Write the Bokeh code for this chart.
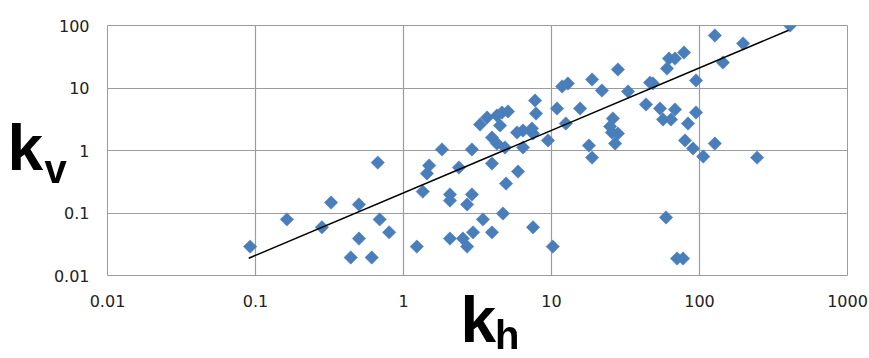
import numpy as np
from bokeh.plotting import figure
from bokeh.layouts import column
from bokeh.models import FixedTicker, CustomJSTickFormatter, ColumnDataSource, Div
from bokeh.embed import file_html
from bokeh.resources import INLINE

# ---- data ----
kh = [0.092, 0.163, 0.281, 0.324, 0.50, 0.50, 0.44, 0.61, 0.67, 0.69, 0.80,
      1.23, 1.35, 1.44, 1.49, 1.82, 2.06, 2.06, 2.90, 2.69, 4.93, 5.94, 3.44,
      4.70, 2.95, 3.96, 2.06, 2.52, 2.69, 7.50, 10.2, 2.37, 2.90, 3.96, 3.29,
      3.67, 4.28, 4.63, 5.08, 4.49, 3.96, 4.28, 4.85, 5.85, 6.42, 7.38, 7.50,
      6.42, 7.74, 7.86, 9.47, 10.9, 11.8, 12.9, 12.5, 15.6, 18.8, 21.9, 28.1,
      32.9, 46.3, 48.5, 43.5, 54.1, 68.3, 62.2, 68.3, 60.3, 78.6, 94.7, 127,
      197, 144, 409, 56.7, 64.2, 26.0, 24.9, 25.6, 28.1, 83.6, 94.7, 26.9,
      17.9, 18.8, 79.8, 90.4, 106, 127, 245, 59.4, 70.5, 77.4]
kv = [0.029, 0.079, 0.059, 0.147, 0.137, 0.039, 0.0194, 0.0194, 0.64, 0.079,
      0.049, 0.029, 0.22, 0.43, 0.575, 1.04, 0.198, 0.158, 0.198, 0.137, 0.296,
      0.46, 0.079, 0.098, 0.049, 0.049, 0.039, 0.039, 0.029, 0.059, 0.029,
      0.535, 1.04, 0.62, 2.61, 3.37, 3.63, 4.06, 4.21, 2.51, 1.61, 1.29, 1.12,
      1.94, 2.09, 2.25, 1.87, 1.12, 6.31, 3.91, 1.45, 4.70, 10.6, 11.8, 2.70,
      4.70, 13.7, 9.12, 19.8, 8.79, 12.2, 11.8, 5.45, 4.70, 4.53, 29.6, 29.6,
      20.5, 37.0, 13.2, 69.2, 51.5, 25.6, 100, 3.13, 3.13, 3.25, 2.42, 1.94,
      1.87, 2.70, 4.06, 1.29, 1.20, 0.77, 1.45, 1.08, 0.80, 1.29, 0.77, 0.085,
      0.0187, 0.0187]

# power-law trendline  kv = trend_coef * kh ** trend_exp
trend_coef = 0.21
trend_exp = 1.0
trend_kh = [0.09, 400]

x_ticks = [0.01, 0.1, 1, 10, 100, 1000]
y_ticks = [0.01, 0.1, 1, 10, 100]

# axis titles: (main letter, subscript)
y_title = ("k", "v")
x_title = ("k", "h")

# ---- figure ----
p = figure(width=869, height=358, x_axis_type="log", y_axis_type="log",
           x_range=(0.01, 1000), y_range=(0.01, 100),
           output_backend="svg", toolbar_location=None,
           min_border_left=107, min_border_right=22,
           min_border_top=25, min_border_bottom=83)
p.background_fill_color = "white"
p.border_fill_color = "white"
p.outline_line_color = "#9c9c9c"
p.outline_line_width = 1

fmt = CustomJSTickFormatter(code="return tick.toString();")
for ax, ticks in ((p.xaxis[0], x_ticks), (p.yaxis[0], y_ticks)):
    ax.ticker = FixedTicker(ticks=ticks, minor_ticks=[])
    ax.formatter = fmt
    ax.axis_line_color = None
    ax.major_tick_line_color = None
    ax.minor_tick_line_color = None
    ax.major_tick_in = 0
    ax.major_tick_out = 0
    ax.minor_tick_in = 0
    ax.minor_tick_out = 0
    ax.major_label_text_font = "DejaVu Sans"
    ax.major_label_text_font_size = "16px"
    ax.major_label_text_color = "#222222"
p.yaxis[0].major_label_standoff = 18
p.xaxis[0].major_label_standoff = 19

for g in (p.xgrid[0], p.ygrid[0]):
    g.grid_line_color = "#9c9c9c"
    g.grid_line_width = 1.2
    g.minor_grid_line_color = None

src = ColumnDataSource(dict(kh=kh, kv=kv))
p.scatter("kh", "kv", source=src, marker="square", size=9.5, angle=np.pi / 4,
          fill_color="#4A7EBB", line_color="#4A7EBB", line_width=0.5)

tx = np.array(trend_kh, dtype=float)
p.line(tx, trend_coef * tx ** trend_exp, line_color="black", line_width=1.5)

# big axis titles with subscripts, as fixed-position HTML text over the plot
def span(text, left, top, size, lh=1.0):
    return (f'<span style="position:fixed;left:{left}px;top:{top}px;z-index:20;'
            f"font-family:'Liberation Sans',Arial,sans-serif;font-weight:bold;"
            f'font-size:{size}px;line-height:{lh};color:#000;white-space:nowrap;">'
            f'{text}</span>')

html = (span(y_title[0], 7.5, 115.8, 64) + span(y_title[1], 44.5, 149, 40) +
        span(x_title[0], 460.5, 288, 64) + span(x_title[1], 495, 319, 40, 0.8))
titles = Div(text=html, width=869, height=0, margin=0)

layout = column(p, titles, spacing=0)
open("out.html", "w").write(file_html(layout, INLINE))
